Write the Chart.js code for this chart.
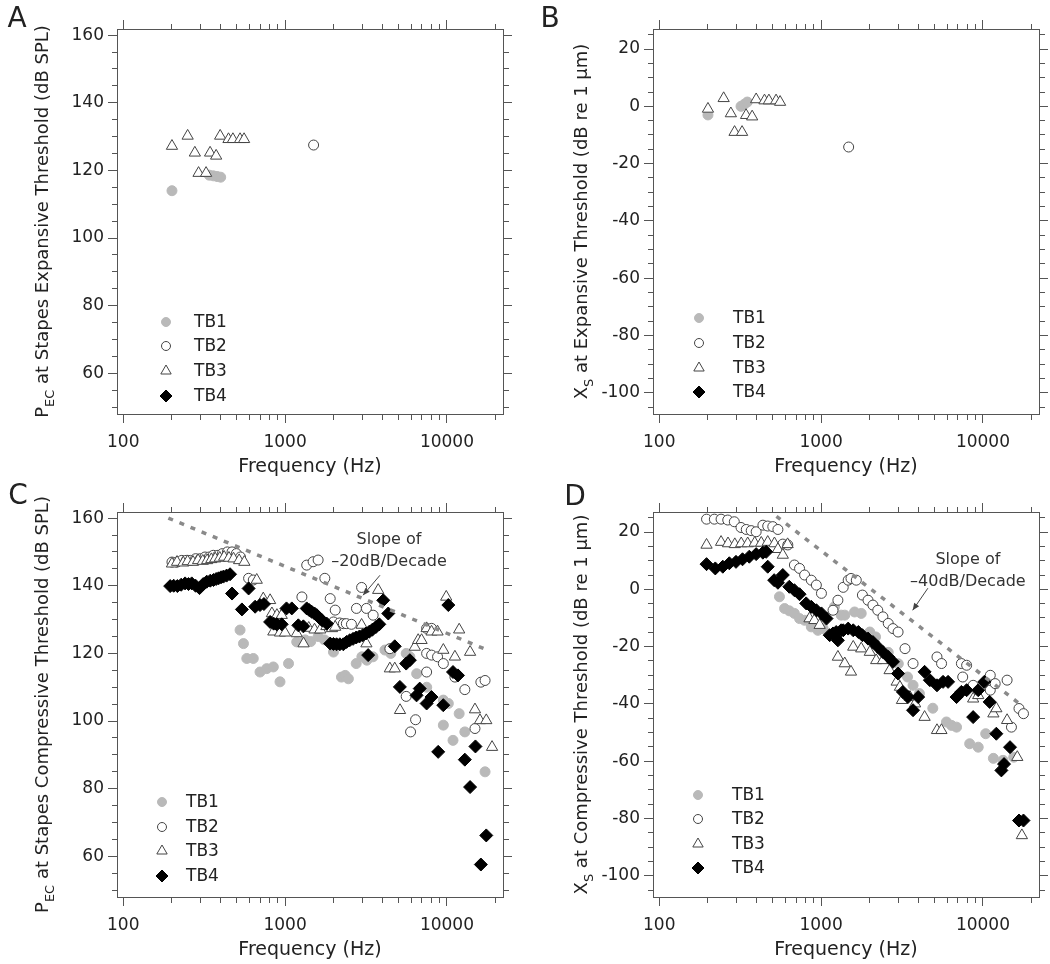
<!DOCTYPE html>
<html><head><meta charset="utf-8">
<script src="https://cdn.jsdelivr.net/npm/chart.js@4.4.1/dist/chart.umd.min.js"></script>
<style>
html,body{margin:0;padding:0;background:#fff;}
#wrap{position:relative;width:1050px;height:964px;background:#fff;}
canvas{position:absolute;}
</style></head><body>
<div id="wrap">
<canvas id="cA" width="525" height="482" style="left:0;top:0"></canvas>
<canvas id="cB" width="525" height="482" style="left:525px;top:0"></canvas>
<canvas id="cC" width="525" height="482" style="left:0;top:482px"></canvas>
<canvas id="cD" width="525" height="482" style="left:525px;top:482px"></canvas>
</div>
<script>
// ---------------- tick labels ----------------
const X_TICKS = [100,200,300,400,500,600,700,800,900,1000,2000,3000,4000,5000,6000,7000,8000,9000,10000,20000];
const X_LABELS = [100,1000,10000];
const Y_TICKS_P = [50,55,60,65,70,75,80,85,90,95,100,105,110,115,120,125,130,135,140,145,150,155,160];
const Y_LABELS_P = [60,80,100,120,140,160];
const Y_TICKS_X = [-105,-100,-95,-90,-85,-80,-75,-70,-65,-60,-55,-50,-45,-40,-35,-30,-25,-20,-15,-10,-5,0,5,10,15,20,25];
const Y_LABELS_X = [-100,-80,-60,-40,-20,0,20];
const SERIES_NAMES = ['TB1','TB2','TB3','TB4'];

// ---------------- Panel A : P_EC at expansive threshold ----------------
const A_TB1_f = [200, 340, 360, 380, 400];
const A_TB1_y = [114, 118.6, 118.4, 118.2, 118.0];
const A_TB2_f = [1500];
const A_TB2_y = [127.5];
const A_TB3_f = [200, 250, 277, 292, 325, 344, 375, 397, 447, 476, 527, 558];
const A_TB3_y = [127.2, 130.2, 125.2, 119.2, 119.2, 125.2, 124.3, 130.2, 129.2, 129.2, 129.2, 129.2];
const A_TB4_f = [];
const A_TB4_y = [];

// ---------------- Panel B : X_S at expansive threshold ----------------
const B_TB1_f = [200, 320, 335, 350];
const B_TB1_y = [-3, 0, 0.7, 1.5];
const B_TB2_f = [1480];
const B_TB2_y = [-14.2];
const B_TB3_f = [200, 250, 277, 292, 325, 344, 375, 397, 447, 476, 527, 558];
const B_TB3_y = [-0.9, 2.8, -2.5, -9, -9, -3.1, -3.6, 2.4, 2.0, 2.0, 2.0, 1.5];
const B_TB4_f = [];
const B_TB4_y = [];

// ---------------- Panel C : P_EC at compressive threshold ----------------
const C_TB1_f = [527, 553, 580, 636, 700, 770, 846, 930, 1050, 1180, 1330, 1440, 1600, 1750, 1990, 2230, 2350, 2460, 2750, 2980, 3200, 3490, 4140, 4500, 5600, 5900, 6500, 7500, 9500, 9500, 10200, 10900, 11900, 12900, 17200];
const C_TB1_y = [126.9, 122.9, 118.5, 118.5, 114.5, 115.5, 116, 111.6, 117, 123.4, 124, 123.5, 125, 124, 120.4, 113, 113.5, 112.5, 117, 119, 118, 119, 121, 120, 120, 119, 114, 110, 106.2, 98.8, 105.2, 94.3, 102.2, 96.8, 85];
const C_TB2_f = [200, 215, 230, 245, 260, 280, 300, 320, 340, 360, 385, 410, 440, 470, 500, 530, 595, 636, 1270, 1360, 1490, 1600, 1760, 1900, 1990, 2040, 2170, 2290, 2390, 2570, 2760, 2970, 3180, 3500, 4440, 5600, 5960, 6400, 7490, 7490, 7490, 8040, 8040, 8750, 9500, 11200, 12900, 14900, 16200, 17200];
const C_TB2_y = [147, 147, 147.5, 147.5, 147.5, 148, 148, 148.5, 148.5, 149, 149, 149.5, 150, 150, 149.5, 148.5, 142.2, 141.7, 136.7, 146.1, 147.1, 147.6, 142.2, 136.2, 129.3, 132.8, 129, 128.8, 128.8, 128.6, 133.3, 139.5, 133.3, 131.3, 121.4, 107.3, 96.8, 100.4, 127.4, 120, 114.5, 119.5, 127.4, 119, 117, 113, 109.3, 97.8, 111.5, 112];
const C_TB3_f = [200, 215, 235, 250, 270, 290, 310, 330, 350, 370, 395, 420, 450, 480, 520, 560, 668, 733, 808, 829, 890, 953, 846, 930, 999, 1180, 1300, 1400, 1520, 1650, 1800, 1950, 2040, 2970, 3180, 3760, 4440, 4760, 5130, 6330, 6640, 6970, 7490, 8030, 8750, 9500, 9900, 11200, 11900, 13900, 14900, 16000, 17500, 19000];
const C_TB3_y = [146.5, 147, 146.8, 147.2, 147, 147.5, 147.3, 147.5, 147.8, 148, 148.2, 148.5, 148.2, 148, 147.5, 147, 141.7, 136.2, 135.7, 131.8, 131.3, 131.3, 126.4, 126.1, 126.1, 125.9, 122.9, 127.5, 127, 127, 128, 127.4, 127.8, 128.4, 122.9, 138.7, 115.5, 115.5, 103.2, 121.9, 123.9, 123.9, 127.4, 126.4, 126.4, 121, 136.7, 119, 127, 120.4, 103.4, 100.2, 100.2, 92.3];
const C_TB4_f = [195, 205, 216, 228, 241, 253, 265, 280, 296, 312, 328, 345, 361, 375, 388, 402, 416, 435, 457, 470, 541, 595, 653, 700, 740, 808, 850, 890, 953, 1020, 1100, 1207, 1297, 1360, 1410, 1460, 1520, 1570, 1630, 1690, 1810, 1900, 1990, 2080, 2180, 2290, 2400, 2510, 2630, 2750, 2880, 3020, 3160, 3260, 3310, 3460, 3640, 3820, 4040, 4340, 4760, 5120, 5600, 5900, 6490, 6790, 7490, 8030, 8830, 9490, 10200, 10900, 11700, 12900, 13900, 15000, 16200, 17500];
const C_TB4_y = [139.9, 140, 139.9, 140.3, 140.7, 140.5, 140.7, 140, 139.3, 140.5, 141.2, 141.5, 141.7, 142, 142.2, 142.5, 142.7, 143, 143.4, 137.7, 133, 139.2, 133.8, 134.3, 134.6, 129.3, 128.8, 128.6, 128.6, 133.3, 133.3, 128.3, 128, 133.3, 132.8, 132.3, 131.8, 131.3, 130.5, 129.8, 128.8, 122.9, 122.8, 122.7, 122.7, 122.7, 123.4, 123.9, 124.3, 124.7, 125, 125.4, 125.9, 119.5, 126.4, 127, 127.8, 128.6, 135.7, 131.8, 122.1, 110.1, 117, 118, 107.6, 109.6, 105.2, 107.1, 90.9, 104.7, 134.3, 114.5, 113.5, 88.6, 80.5, 92.5, 57.6, 66.2];
const C_SLOPE_f = [190, 18400];
const C_SLOPE_y = [160, 120.7];

// ---------------- Panel D : X_S at compressive threshold ----------------
const D_TB1_f = [553, 595, 636, 684, 736, 791, 870, 955, 1030, 1210, 1330, 1400, 1610, 1770, 2000, 2170, 2600, 3000, 3420, 3700, 4050, 4900, 5950, 6400, 6870, 8280, 9350, 10400, 11600, 13300, 15500];
const D_TB1_y = [-2.6, -6.7, -7.5, -8.4, -10.2, -10.8, -13.1, -14.3, -13.7, -6.1, -9, -9, -7.9, -8.4, -14.9, -16.6, -22, -26, -30.6, -33.5, -36.4, -41.5, -46.3, -47.5, -48.1, -53.9, -55.1, -50.4, -59, -59.7, -58.6];
const D_TB2_f = [196, 219, 241, 265, 291, 320, 345, 370, 397, 437, 468, 503, 541, 580, 623, 684, 736, 791, 870, 935, 1005, 1185, 1270, 1370, 1470, 1530, 1650, 1800, 1950, 2090, 2240, 2410, 2600, 2780, 2990, 3300, 3700, 5200, 5550, 7360, 7500, 7930, 8700, 11100, 11100, 11900, 14100, 15000, 16700, 17800];
const D_TB2_y = [24.5, 24.5, 24.5, 24.2, 23.6, 21.6, 20.9, 20.5, 20.1, 22.4, 22.1, 21.9, 20.9, 15.8, 15.5, 8.5, 7.3, 5, 3.2, 1.5, -1.4, -7.3, -3.8, 0.7, 3.2, 3.8, 3.2, -2, -3.8, -5.5, -7.3, -9.6, -11.9, -13.7, -14.9, -20.7, -25.9, -23.6, -25.9, -25.9, -30.6, -26.5, -33.5, -30, -35.2, -32.9, -31.7, -48.1, -41.6, -43.4];
const D_TB3_f = [196, 241, 266, 293, 321, 352, 389, 427, 468, 515, 541, 580, 621, 848, 909, 980, 1270, 1400, 1530, 1580, 1770, 2000, 2190, 2410, 2650, 2930, 3070, 3160, 3540, 3810, 4360, 5200, 5540, 8700, 9350, 11600, 12100, 14100, 16300, 17400];
const D_TB3_y = [15.5, 16.5, 16, 15.7, 16, 16, 16.2, 16.2, 16.5, 16, 14, 12, 15.7, -10.2, -10.8, -12.5, -23.6, -25.9, -28.8, -20.1, -20.7, -21.9, -24.8, -24.8, -28.3, -32.3, -34.1, -38.7, -37.6, -39.9, -44.6, -49.2, -49.2, -38.2, -37, -43.4, -41.6, -45.7, -58.6, -85.9];
const D_TB4_f = [196, 222, 247, 271, 298, 327, 360, 397, 437, 458, 468, 513, 541, 580, 636, 684, 736, 809, 870, 935, 1005, 1080, 1130, 1185, 1240, 1270, 1330, 1370, 1470, 1580, 1700, 1800, 1950, 2090, 2240, 2410, 2600, 2780, 2990, 3200, 3440, 3700, 3980, 4360, 4700, 5200, 5670, 6090, 6870, 7360, 7930, 8700, 9350, 10200, 11000, 12100, 13000, 13500, 14700, 16700, 17800];
const D_TB4_y = [8.8, 7.3, 7.9, 9.1, 9.6, 10.5, 11.4, 12.3, 12.8, 13.1, 7.9, 3.2, 2.3, 5, 0.9, -0.3, -1.7, -4.9, -6.1, -7.3, -8.4, -10.2, -16, -15.4, -14.9, -17.8, -14.3, -14.3, -13.7, -14.3, -14.9, -16, -17.2, -18.4, -20.1, -21.9, -23.6, -25.3, -29.4, -35.8, -37.6, -42.2, -37.6, -28.8, -31.7, -33.5, -32.3, -32.3, -37.6, -35.8, -35.2, -44.6, -35.2, -32.3, -39.3, -50.4, -63.2, -61, -55.1, -80.7, -80.7];
const D_SLOPE_f = [530, 17800];
const D_SLOPE_y = [25.5, -41];

// ---------------- styles ----------------
const FONT = '"DejaVu Sans", "Liberation Sans", sans-serif';
const TXT = '#222';
const AXC = '#555';
const STYLES = {
  TB1: {pointStyle:'circle', pointRadius:5, backgroundColor:'#b9b9b9', borderColor:'#b9b9b9', borderWidth:1, order:4},
  TB2: {pointStyle:'circle', pointRadius:5, backgroundColor:'#ffffff', borderColor:'#444', borderWidth:1, order:3},
  TB3: {pointStyle:'triangle', pointRadius:6.5, backgroundColor:'#ffffff', borderColor:'#444', borderWidth:1, order:2},
  TB4: {pointStyle:'rectRot', pointRadius:6.5, backgroundColor:'#000000', borderColor:'#000000', borderWidth:1, order:1}
};

function pts(f, y) { return f.map((v, i) => ({x: v, y: y[i]})); }
function seriesDs(name, f, y) {
  const s = STYLES[name];
  return Object.assign({label: name, data: pts(f, y), showLine: false, pointHoverRadius: s.pointRadius}, s);
}
function slopeDs(f, y) {
  return {label: 'slope', data: pts(f, y), showLine: true, pointRadius: 0, borderColor: '#8a8a8a',
          borderWidth: 3.5, borderDash: [5, 7], fill: false, order: 0};
}

function markerPath(ctx, style, x, y, r) {
  ctx.beginPath();
  if (style === 'circle') { ctx.arc(x, y, r, 0, Math.PI * 2); }
  else if (style === 'triangle') {
    ctx.moveTo(x, y - r); ctx.lineTo(x + r * 0.866, y + r / 2); ctx.lineTo(x - r * 0.866, y + r / 2); ctx.closePath();
  } else {
    ctx.moveTo(x - r, y); ctx.lineTo(x, y - r); ctx.lineTo(x + r, y); ctx.lineTo(x, y + r); ctx.closePath();
  }
}

function drawVertical(ctx, cx, cy, parts, size) {
  ctx.save();
  ctx.translate(cx, cy);
  ctx.rotate(-Math.PI / 2);
  ctx.textAlign = 'left';
  ctx.textBaseline = 'alphabetic';
  const sub = size * 0.72;
  let total = 0;
  const ws = parts.map(p => { ctx.font = (p.sub ? sub : size) + 'px ' + FONT; const w = ctx.measureText(p.t).width; total += w; return w; });
  let x = -total / 2;
  parts.forEach((p, i) => {
    ctx.font = (p.sub ? sub : size) + 'px ' + FONT;
    ctx.fillText(p.t, x, size * 0.36 + (p.sub ? size * 0.3 : 0));
    x += ws[i];
  });
  ctx.restore();
}

const decor = {
  id: 'decor',
  afterDraw(chart, args, o) {
    const ctx = chart.ctx, ca = chart.chartArea;
    const sx = chart.scales.x, sy = chart.scales.y;
    ctx.save();
    ctx.fillStyle = TXT;
    ctx.textAlign = 'center'; ctx.textBaseline = 'middle';
    ctx.font = '28px ' + FONT;
    ctx.fillText(o.letter, o.letterX, o.letterY);
    ctx.font = '19px ' + FONT;
    ctx.fillText('Frequency (Hz)', (ca.left + ca.right) / 2, ca.bottom + 53);
    drawVertical(ctx, o.yTitleX, (ca.top + ca.bottom) / 2, o.yTitle, 18);
    // legend
    ctx.font = '17px ' + FONT;
    ctx.textAlign = 'left';
    SERIES_NAMES.forEach((n, i) => {
      const s = STYLES[n], y = o.legendY[i];
      markerPath(ctx, s.pointStyle, o.legendMX, y, s.pointStyle === 'circle' ? 4.5 : s.pointRadius - 0.5);
      ctx.fillStyle = s.backgroundColor; ctx.fill();
      ctx.strokeStyle = s.borderColor; ctx.lineWidth = 1; ctx.stroke();
      ctx.fillStyle = TXT;
      ctx.fillText(n, o.legendTX, y + 1);
    });
    // annotation
    if (o.note) {
      const n = o.note;
      ctx.font = '16px ' + FONT;
      ctx.textAlign = 'center';
      ctx.fillStyle = '#333';
      const tx = sx.getPixelForValue(n.f);
      ctx.fillText(n.lines[0], tx, sy.getPixelForValue(n.v1));
      ctx.fillText(n.lines[1], tx, sy.getPixelForValue(n.v2));
      const x1 = sx.getPixelForValue(n.a[0]), y1 = sy.getPixelForValue(n.a[1]);
      const x2 = sx.getPixelForValue(n.a[2]), y2 = sy.getPixelForValue(n.a[3]);
      ctx.strokeStyle = '#444'; ctx.lineWidth = 1;
      ctx.beginPath(); ctx.moveTo(x1, y1); ctx.lineTo(x2, y2); ctx.stroke();
      const ang = Math.atan2(y2 - y1, x2 - x1), L = 7, W = 3;
      ctx.beginPath();
      ctx.moveTo(x2, y2);
      ctx.lineTo(x2 - L * Math.cos(ang) + W * Math.sin(ang), y2 - L * Math.sin(ang) - W * Math.cos(ang));
      ctx.lineTo(x2 - L * Math.cos(ang) - W * Math.sin(ang), y2 - L * Math.sin(ang) + W * Math.cos(ang));
      ctx.closePath(); ctx.fillStyle = '#444'; ctx.fill();
    }
    ctx.restore();
  }
};
Chart.register(decor);

const X_MIN = 91.5, X_MAX = 22200;
function axisOpts(kind, pos, cfg) {
  const isX = kind === 'x';
  const tickVals = isX ? X_TICKS : cfg.yTicks;
  const labVals = isX ? X_LABELS : cfg.yLabels;
  const outerFirst = (pos === 'left' || pos === 'top');
  const size = {left: cfg.leftW, right: cfg.rightW, top: cfg.topH, bottom: cfg.bottomH}[pos];
  const showLabels = (pos === 'left' || pos === 'bottom');
  return {
    type: isX ? 'logarithmic' : 'linear',
    position: pos,
    min: isX ? X_MIN : cfg.yMin,
    max: isX ? X_MAX : cfg.yMax,
    afterBuildTicks: s => { s.ticks = tickVals.map(v => ({value: v, major: labVals.includes(v)})); },
    afterFit: s => { if (isX) { s.height = size; s.paddingLeft = 0; s.paddingRight = 0; } else { s.width = size; s.paddingTop = 0; s.paddingBottom = 0; } },
    ticks: {
      autoSkip: false, maxRotation: 0, minRotation: 0,
      padding: isX ? 9 : 4,
      color: TXT,
      font: {family: FONT, size: 17},
      callback: v => (showLabels && labVals.includes(v)) ? String(v) : ''
    },
    grid: {
      drawOnChartArea: false, drawTicks: true, tickLength: 9, tickColor: AXC, tickWidth: 1,
      tickBorderDash: c => (c.tick && labVals.includes(c.tick.value)) ? [] : (outerFirst ? [0, 4, 5, 100] : [5, 100])
    },
    border: {display: true, color: AXC, width: 1}
  };
}

function makePanel(id, cfg, datasets, deco) {
  new Chart(document.getElementById(id), {
    type: 'scatter',
    data: {datasets},
    options: {
      responsive: false, animation: false, events: [],
      layout: {padding: 0},
      plugins: {legend: {display: false}, tooltip: {enabled: false}, decor: deco},
      scales: {
        x: axisOpts('x', 'bottom', cfg),
        x2: axisOpts('x', 'top', cfg),
        y: axisOpts('y', 'left', cfg),
        y2: axisOpts('y', 'right', cfg)
      }
    }
  });
}

const cfgP = (top, bottom, left, right) => ({yMin: 48, yMax: 161.8, yTicks: Y_TICKS_P, yLabels: Y_LABELS_P, leftW: left, rightW: right, topH: top, bottomH: bottom});
const cfgX = (top, bottom, left, right) => ({yMin: -107.4, yMax: 27, yTicks: Y_TICKS_X, yLabels: Y_LABELS_X, leftW: left, rightW: right, topH: top, bottomH: bottom});

const TITLE_PA = [{t:'P'},{t:'EC',sub:true},{t:' at Stapes Expansive Threshold (dB SPL)'}];
const TITLE_XA = [{t:'X'},{t:'S',sub:true},{t:' at Expansive Threshold (dB re 1 \u03bcm)'}];
const TITLE_PC = [{t:'P'},{t:'EC',sub:true},{t:' at Stapes Compressive Threshold (dB SPL)'}];
const TITLE_XC = [{t:'X'},{t:'S',sub:true},{t:' at Compressive Threshold (dB re 1 \u03bcm)'}];

makePanel('cA', cfgP(29, 68, 117, 22), [
  seriesDs('TB1', A_TB1_f, A_TB1_y), seriesDs('TB2', A_TB2_f, A_TB2_y),
  seriesDs('TB3', A_TB3_f, A_TB3_y), seriesDs('TB4', A_TB4_f, A_TB4_y)
], {letter:'A', letterX:17, letterY:20, yTitleX:42, yTitle:TITLE_PA, legendMX:166, legendTX:194, legendY:[322,346,371,396]});

makePanel('cB', cfgX(29, 68, 128, 11), [
  seriesDs('TB1', B_TB1_f, B_TB1_y), seriesDs('TB2', B_TB2_f, B_TB2_y),
  seriesDs('TB3', B_TB3_f, B_TB3_y), seriesDs('TB4', B_TB4_f, B_TB4_y)
], {letter:'B', letterX:25, letterY:20, yTitleX:56, yTitle:TITLE_XA, legendMX:174, legendTX:208, legendY:[318,343,368,392]});

makePanel('cC', cfgP(30, 67, 117, 22), [
  seriesDs('TB1', C_TB1_f, C_TB1_y), seriesDs('TB2', C_TB2_f, C_TB2_y),
  seriesDs('TB3', C_TB3_f, C_TB3_y), seriesDs('TB4', C_TB4_f, C_TB4_y),
  slopeDs(C_SLOPE_f, C_SLOPE_y)
], {letter:'C', letterX:18, letterY:15, yTitleX:42, yTitle:TITLE_PC, legendMX:162, legendTX:186, legendY:[320,345,369,394],
    note:{lines:['Slope of','\u201320dB/Decade'], f:4385, v1:153.5, v2:147, a:[3857,143.1,3030,137.2]}});

makePanel('cD', cfgX(30, 67, 128, 11), [
  seriesDs('TB1', D_TB1_f, D_TB1_y), seriesDs('TB2', D_TB2_f, D_TB2_y),
  seriesDs('TB3', D_TB3_f, D_TB3_y), seriesDs('TB4', D_TB4_f, D_TB4_y),
  slopeDs(D_SLOPE_f, D_SLOPE_y)
], {letter:'D', letterX:50, letterY:16, yTitleX:56, yTitle:TITLE_XC, legendMX:173, legendTX:207, legendY:[313,337,362,386],
    note:{lines:['Slope of','\u201340dB/Decade'], f:8070, v1:10.2, v2:2.5, a:[4570,0.4,3680,-7.3]}});
</script>
</body></html>
